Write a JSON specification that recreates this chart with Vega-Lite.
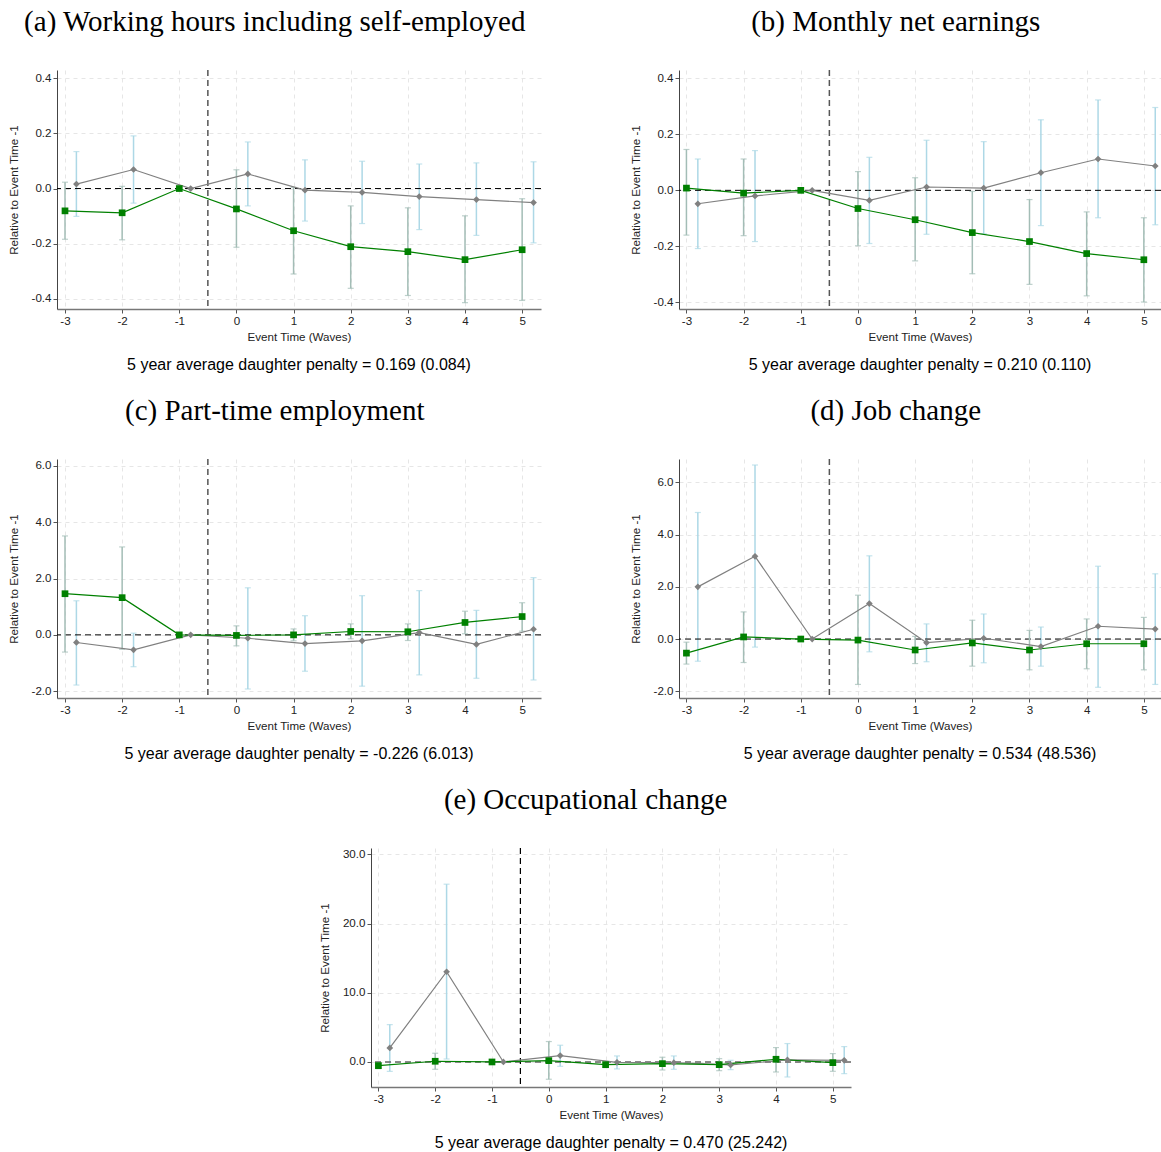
{
 "$schema": "https://vega.github.io/schema/vega-lite/v6.json",
 "padding": {"left": 8, "top": 8, "right": 0, "bottom": 0},
 "background": "white",
 "datasets": {
  "a": [
   {"group": "daughter", "t": -3, "est": -0.081, "lo": -0.184, "hi": 0.023},
   {"group": "daughter", "t": -2, "est": -0.088, "lo": -0.186, "hi": 0.008},
   {"group": "daughter", "t": -1, "est": 0, "lo": null, "hi": null},
   {"group": "daughter", "t": 0, "est": -0.074, "lo": -0.213, "hi": 0.068},
   {"group": "daughter", "t": 1, "est": -0.153, "lo": -0.31, "hi": 0.004},
   {"group": "daughter", "t": 2, "est": -0.211, "lo": -0.362, "hi": -0.063},
   {"group": "daughter", "t": 3, "est": -0.229, "lo": -0.388, "hi": -0.07},
   {"group": "daughter", "t": 4, "est": -0.258, "lo": -0.414, "hi": -0.099},
   {"group": "daughter", "t": 5, "est": -0.222, "lo": -0.406, "hi": -0.037},
   {"group": "son", "t": -3, "est": 0.016, "lo": -0.101, "hi": 0.134},
   {"group": "son", "t": -2, "est": 0.069, "lo": -0.053, "hi": 0.191},
   {"group": "son", "t": -1, "est": 0, "lo": null, "hi": null},
   {"group": "son", "t": 0, "est": 0.053, "lo": -0.063, "hi": 0.169},
   {"group": "son", "t": 1, "est": -0.006, "lo": -0.118, "hi": 0.104},
   {"group": "son", "t": 2, "est": -0.014, "lo": -0.127, "hi": 0.099},
   {"group": "son", "t": 3, "est": -0.029, "lo": -0.149, "hi": 0.089},
   {"group": "son", "t": 4, "est": -0.04, "lo": -0.17, "hi": 0.093},
   {"group": "son", "t": 5, "est": -0.051, "lo": -0.197, "hi": 0.097}
  ],
  "b": [
   {"group": "daughter", "t": -3, "est": 0.008, "lo": -0.16, "hi": 0.146},
   {"group": "daughter", "t": -2, "est": -0.01, "lo": -0.162, "hi": 0.112},
   {"group": "daughter", "t": -1, "est": 0, "lo": null, "hi": null},
   {"group": "daughter", "t": 0, "est": -0.065, "lo": -0.198, "hi": 0.067},
   {"group": "daughter", "t": 1, "est": -0.105, "lo": -0.252, "hi": 0.045},
   {"group": "daughter", "t": 2, "est": -0.151, "lo": -0.298, "hi": -0.004},
   {"group": "daughter", "t": 3, "est": -0.183, "lo": -0.336, "hi": -0.033},
   {"group": "daughter", "t": 4, "est": -0.226, "lo": -0.377, "hi": -0.077},
   {"group": "daughter", "t": 5, "est": -0.248, "lo": -0.399, "hi": -0.098},
   {"group": "son", "t": -3, "est": -0.048, "lo": -0.208, "hi": 0.112},
   {"group": "son", "t": -2, "est": -0.02, "lo": -0.183, "hi": 0.142},
   {"group": "son", "t": -1, "est": 0, "lo": null, "hi": null},
   {"group": "son", "t": 0, "est": -0.036, "lo": -0.19, "hi": 0.118},
   {"group": "son", "t": 1, "est": 0.012, "lo": -0.157, "hi": 0.179},
   {"group": "son", "t": 2, "est": 0.008, "lo": -0.155, "hi": 0.174},
   {"group": "son", "t": 3, "est": 0.063, "lo": -0.126, "hi": 0.252},
   {"group": "son", "t": 4, "est": 0.112, "lo": -0.098, "hi": 0.323},
   {"group": "son", "t": 5, "est": 0.087, "lo": -0.123, "hi": 0.296}
  ],
  "c": [
   {"group": "daughter", "t": -3, "est": 1.46, "lo": -0.61, "hi": 3.51},
   {"group": "daughter", "t": -2, "est": 1.32, "lo": -0.51, "hi": 3.12},
   {"group": "daughter", "t": -1, "est": 0, "lo": null, "hi": null},
   {"group": "daughter", "t": 0, "est": -0.02, "lo": -0.39, "hi": 0.32},
   {"group": "daughter", "t": 1, "est": 0.0, "lo": -0.21, "hi": 0.21},
   {"group": "daughter", "t": 2, "est": 0.12, "lo": -0.14, "hi": 0.39},
   {"group": "daughter", "t": 3, "est": 0.11, "lo": -0.2, "hi": 0.39},
   {"group": "daughter", "t": 4, "est": 0.44, "lo": 0.04, "hi": 0.84},
   {"group": "daughter", "t": 5, "est": 0.65, "lo": 0.13, "hi": 1.14},
   {"group": "son", "t": -3, "est": -0.27, "lo": -1.78, "hi": 1.21},
   {"group": "son", "t": -2, "est": -0.53, "lo": -1.13, "hi": 0.06},
   {"group": "son", "t": -1, "est": 0, "lo": null, "hi": null},
   {"group": "son", "t": 0, "est": -0.12, "lo": -1.92, "hi": 1.67},
   {"group": "son", "t": 1, "est": -0.31, "lo": -1.29, "hi": 0.68},
   {"group": "son", "t": 2, "est": -0.21, "lo": -1.82, "hi": 1.39},
   {"group": "son", "t": 3, "est": 0.08, "lo": -1.42, "hi": 1.57},
   {"group": "son", "t": 4, "est": -0.34, "lo": -1.54, "hi": 0.87},
   {"group": "son", "t": 5, "est": 0.2, "lo": -1.6, "hi": 2.03}
  ],
  "d": [
   {"group": "daughter", "t": -3, "est": -0.54, "lo": -0.96, "hi": -0.12},
   {"group": "daughter", "t": -2, "est": 0.08, "lo": -0.9, "hi": 1.04},
   {"group": "daughter", "t": -1, "est": 0, "lo": null, "hi": null},
   {"group": "daughter", "t": 0, "est": -0.04, "lo": -1.74, "hi": 1.68},
   {"group": "daughter", "t": 1, "est": -0.42, "lo": -0.94, "hi": 0.1},
   {"group": "daughter", "t": 2, "est": -0.15, "lo": -1.04, "hi": 0.72},
   {"group": "daughter", "t": 3, "est": -0.42, "lo": -1.18, "hi": 0.33},
   {"group": "daughter", "t": 4, "est": -0.18, "lo": -1.14, "hi": 0.77},
   {"group": "daughter", "t": 5, "est": -0.18, "lo": -1.18, "hi": 0.83},
   {"group": "son", "t": -3, "est": 2.0, "lo": -0.85, "hi": 4.85},
   {"group": "son", "t": -2, "est": 3.17, "lo": -0.31, "hi": 6.67},
   {"group": "son", "t": -1, "est": 0, "lo": null, "hi": null},
   {"group": "son", "t": 0, "est": 1.36, "lo": -0.49, "hi": 3.19},
   {"group": "son", "t": 1, "est": -0.14, "lo": -0.87, "hi": 0.58},
   {"group": "son", "t": 2, "est": 0.03, "lo": -0.91, "hi": 0.96},
   {"group": "son", "t": 3, "est": -0.29, "lo": -1.04, "hi": 0.46},
   {"group": "son", "t": 4, "est": 0.49, "lo": -1.85, "hi": 2.79},
   {"group": "son", "t": 5, "est": 0.38, "lo": -1.74, "hi": 2.5}
  ],
  "e": [
   {"group": "daughter", "t": -3, "est": -0.53, "lo": -0.97, "hi": -0.2},
   {"group": "daughter", "t": -2, "est": 0.1, "lo": -1.06, "hi": 1.26},
   {"group": "daughter", "t": -1, "est": 0, "lo": null, "hi": null},
   {"group": "daughter", "t": 0, "est": 0.19, "lo": -2.5, "hi": 2.95},
   {"group": "daughter", "t": 1, "est": -0.39, "lo": -0.82, "hi": 0.0},
   {"group": "daughter", "t": 2, "est": -0.24, "lo": -1.16, "hi": 0.68},
   {"group": "daughter", "t": 3, "est": -0.39, "lo": -1.26, "hi": 0.48},
   {"group": "daughter", "t": 4, "est": 0.39, "lo": -1.45, "hi": 2.08},
   {"group": "daughter", "t": 5, "est": -0.1, "lo": -1.35, "hi": 1.21},
   {"group": "son", "t": -3, "est": 2.03, "lo": -1.35, "hi": 5.41},
   {"group": "son", "t": -2, "est": 13.04, "lo": 0.43, "hi": 25.7},
   {"group": "son", "t": -1, "est": 0, "lo": null, "hi": null},
   {"group": "son", "t": 0, "est": 0.92, "lo": -0.63, "hi": 2.42},
   {"group": "son", "t": 1, "est": -0.05, "lo": -1.01, "hi": 0.87},
   {"group": "son", "t": 2, "est": -0.1, "lo": -1.06, "hi": 0.87},
   {"group": "son", "t": 3, "est": -0.43, "lo": -1.11, "hi": 0.24},
   {"group": "son", "t": 4, "est": 0.29, "lo": -2.17, "hi": 2.66},
   {"group": "son", "t": 5, "est": 0.24, "lo": -1.69, "hi": 2.22}
  ]
 },
 "vconcat": [
  {"hconcat": [
   {"title": {"text": "(a) Working hours including self-employed", "font": "Liberation Serif", "fontSize": 29, "fontWeight": "normal", "color": "#000", "anchor": "middle", "offset": 32},
    "vconcat": [{
     "width": 484, "height": 239,
     "title": {"text": "5 year average daughter penalty = 0.169 (0.084)", "orient": "bottom", "anchor": "middle", "frame": "group", "font": "Liberation Sans", "fontSize": 16, "fontWeight": "normal", "color": "#000", "offset": 14},
     "data": {"name": "a"},
     "layer": [
      {"transform": [{"filter": "datum.group == 'son'"}], "mark": {"type": "rule", "color": "#add8e6", "strokeWidth": 1.5, "xOffset": 11.4},
       "encoding": {"x": {"field": "t", "type": "quantitative", "scale": {"domain": [-3.14, 5.33], "nice": false, "zero": false}, "axis": {"values": [-3, -2, -1, 0, 1, 2, 3, 4, 5], "title": "Event Time (Waves)", "labelExpr": "replace(format(datum.value, 'd'), '\u2212', '-')", "grid": true}},
        "y": {"field": "lo", "type": "quantitative", "scale": {"domain": [-0.437, 0.43], "nice": false, "zero": false}, "axis": {"values": [-0.4, -0.2, 0, 0.2, 0.4], "title": "Relative to Event Time -1", "labelExpr": "replace(format(datum.value, '.1f'), '\u2212', '-')", "grid": true}},
        "y2": {"field": "hi"}}},
      {"data": {"values": [{}]}, "mark": {"type": "rule", "strokeDash": [6, 4], "color": "#000", "strokeWidth": 1}, "encoding": {"y": {"datum": 0, "type": "quantitative"}}},
      {"data": {"values": [{}]}, "mark": {"type": "rule", "strokeDash": [6, 4], "color": "#555", "strokeWidth": 1.5}, "encoding": {"x": {"datum": -0.5, "type": "quantitative"}}},
      {"transform": [{"filter": "datum.group == 'daughter'"}], "mark": {"type": "rule", "color": "#a3bdb6", "strokeWidth": 1.5},
       "encoding": {"x": {"field": "t", "type": "quantitative"}, "y": {"field": "lo", "type": "quantitative"}, "y2": {"field": "hi"}}},
      {"transform": [{"filter": "datum.group == 'son'"}, {"fold": ["lo", "hi"], "as": ["bound", "v"]}], "mark": {"type": "tick", "orient": "horizontal", "color": "#add8e6", "size": 6, "thickness": 1.2, "xOffset": 11.4},
       "encoding": {"x": {"field": "t", "type": "quantitative"}, "y": {"field": "v", "type": "quantitative"}}},
      {"transform": [{"filter": "datum.group == 'daughter'"}, {"fold": ["lo", "hi"], "as": ["bound", "v"]}], "mark": {"type": "tick", "orient": "horizontal", "color": "#a3bdb6", "size": 6, "thickness": 1.2},
       "encoding": {"x": {"field": "t", "type": "quantitative"}, "y": {"field": "v", "type": "quantitative"}}},
      {"transform": [{"filter": "datum.group == 'son'"}], "mark": {"type": "line", "color": "#808080", "strokeWidth": 1.2, "xOffset": 11.4},
       "encoding": {"x": {"field": "t", "type": "quantitative"}, "y": {"field": "est", "type": "quantitative"}}},
      {"transform": [{"filter": "datum.group == 'daughter'"}], "mark": {"type": "line", "color": "#008000", "strokeWidth": 1.2},
       "encoding": {"x": {"field": "t", "type": "quantitative"}, "y": {"field": "est", "type": "quantitative"}}},
      {"transform": [{"filter": "datum.group == 'son'"}], "mark": {"type": "point", "shape": "diamond", "filled": true, "color": "#808080", "opacity": 1, "size": 45, "xOffset": 11.4},
       "encoding": {"x": {"field": "t", "type": "quantitative"}, "y": {"field": "est", "type": "quantitative"}}},
      {"transform": [{"filter": "datum.group == 'daughter'"}], "mark": {"type": "point", "shape": "square", "filled": true, "color": "#008000", "opacity": 1, "size": 45},
       "encoding": {"x": {"field": "t", "type": "quantitative"}, "y": {"field": "est", "type": "quantitative"}}}
     ]
    }]
   },
   {"title": {"text": "(b) Monthly net earnings", "font": "Liberation Serif", "fontSize": 29, "fontWeight": "normal", "color": "#000", "anchor": "middle", "offset": 32},
    "vconcat": [{
     "width": 482, "height": 239,
     "title": {"text": "5 year average daughter penalty = 0.210 (0.110)", "orient": "bottom", "anchor": "middle", "frame": "group", "font": "Liberation Sans", "fontSize": 16, "fontWeight": "normal", "color": "#000", "offset": 14},
     "data": {"name": "b"},
     "layer": [
      {"transform": [{"filter": "datum.group == 'son'"}], "mark": {"type": "rule", "color": "#add8e6", "strokeWidth": 1.5, "xOffset": 11.4},
       "encoding": {"x": {"field": "t", "type": "quantitative", "scale": {"domain": [-3.13, 5.3], "nice": false, "zero": false}, "axis": {"values": [-3, -2, -1, 0, 1, 2, 3, 4, 5], "title": "Event Time (Waves)", "labelExpr": "replace(format(datum.value, 'd'), '\u2212', '-')", "grid": true}},
        "y": {"field": "lo", "type": "quantitative", "scale": {"domain": [-0.424, 0.43], "nice": false, "zero": false}, "axis": {"values": [-0.4, -0.2, 0, 0.2, 0.4], "title": "Relative to Event Time -1", "labelExpr": "replace(format(datum.value, '.1f'), '\u2212', '-')", "grid": true}},
        "y2": {"field": "hi"}}},
      {"data": {"values": [{}]}, "mark": {"type": "rule", "strokeDash": [6, 4], "color": "#000", "strokeWidth": 1}, "encoding": {"y": {"datum": 0, "type": "quantitative"}}},
      {"data": {"values": [{}]}, "mark": {"type": "rule", "strokeDash": [6, 4], "color": "#555", "strokeWidth": 1.5}, "encoding": {"x": {"datum": -0.5, "type": "quantitative"}}},
      {"transform": [{"filter": "datum.group == 'daughter'"}], "mark": {"type": "rule", "color": "#a3bdb6", "strokeWidth": 1.5},
       "encoding": {"x": {"field": "t", "type": "quantitative"}, "y": {"field": "lo", "type": "quantitative"}, "y2": {"field": "hi"}}},
      {"transform": [{"filter": "datum.group == 'son'"}, {"fold": ["lo", "hi"], "as": ["bound", "v"]}], "mark": {"type": "tick", "orient": "horizontal", "color": "#add8e6", "size": 6, "thickness": 1.2, "xOffset": 11.4},
       "encoding": {"x": {"field": "t", "type": "quantitative"}, "y": {"field": "v", "type": "quantitative"}}},
      {"transform": [{"filter": "datum.group == 'daughter'"}, {"fold": ["lo", "hi"], "as": ["bound", "v"]}], "mark": {"type": "tick", "orient": "horizontal", "color": "#a3bdb6", "size": 6, "thickness": 1.2},
       "encoding": {"x": {"field": "t", "type": "quantitative"}, "y": {"field": "v", "type": "quantitative"}}},
      {"transform": [{"filter": "datum.group == 'son'"}], "mark": {"type": "line", "color": "#808080", "strokeWidth": 1.2, "xOffset": 11.4},
       "encoding": {"x": {"field": "t", "type": "quantitative"}, "y": {"field": "est", "type": "quantitative"}}},
      {"transform": [{"filter": "datum.group == 'daughter'"}], "mark": {"type": "line", "color": "#008000", "strokeWidth": 1.2},
       "encoding": {"x": {"field": "t", "type": "quantitative"}, "y": {"field": "est", "type": "quantitative"}}},
      {"transform": [{"filter": "datum.group == 'son'"}], "mark": {"type": "point", "shape": "diamond", "filled": true, "color": "#808080", "opacity": 1, "size": 45, "xOffset": 11.4},
       "encoding": {"x": {"field": "t", "type": "quantitative"}, "y": {"field": "est", "type": "quantitative"}}},
      {"transform": [{"filter": "datum.group == 'daughter'"}], "mark": {"type": "point", "shape": "square", "filled": true, "color": "#008000", "opacity": 1, "size": 45},
       "encoding": {"x": {"field": "t", "type": "quantitative"}, "y": {"field": "est", "type": "quantitative"}}}
     ]
    }]
   }
  ], "spacing": 88},
  {"hconcat": [
   {"title": {"text": "(c) Part-time employment", "font": "Liberation Serif", "fontSize": 29, "fontWeight": "normal", "color": "#000", "anchor": "middle", "offset": 32},
    "vconcat": [{
     "width": 484, "height": 239,
     "title": {"text": "5 year average daughter penalty = -0.226 (6.013)", "orient": "bottom", "anchor": "middle", "frame": "group", "font": "Liberation Sans", "fontSize": 16, "fontWeight": "normal", "color": "#000", "offset": 14},
     "data": {"name": "c"},
     "layer": [
      {"transform": [{"filter": "datum.group == 'son'"}], "mark": {"type": "rule", "color": "#add8e6", "strokeWidth": 1.5, "xOffset": 11.4},
       "encoding": {"x": {"field": "t", "type": "quantitative", "scale": {"domain": [-3.14, 5.33], "nice": false, "zero": false}, "axis": {"values": [-3, -2, -1, 0, 1, 2, 3, 4, 5], "title": "Event Time (Waves)", "labelExpr": "replace(format(datum.value, 'd'), '\u2212', '-')", "grid": true}},
        "y": {"field": "lo", "type": "quantitative", "scale": {"domain": [-2.24, 6.24], "nice": false, "zero": false}, "axis": {"values": [-2, 0, 2, 4, 6], "title": "Relative to Event Time -1", "labelExpr": "replace(format(datum.value, '.1f'), '\u2212', '-')", "grid": true}},
        "y2": {"field": "hi"}}},
      {"data": {"values": [{}]}, "mark": {"type": "rule", "strokeDash": [6, 4], "color": "#000", "strokeWidth": 1}, "encoding": {"y": {"datum": 0, "type": "quantitative"}}},
      {"data": {"values": [{}]}, "mark": {"type": "rule", "strokeDash": [6, 4], "color": "#555", "strokeWidth": 1.5}, "encoding": {"x": {"datum": -0.5, "type": "quantitative"}}},
      {"transform": [{"filter": "datum.group == 'daughter'"}], "mark": {"type": "rule", "color": "#a3bdb6", "strokeWidth": 1.5},
       "encoding": {"x": {"field": "t", "type": "quantitative"}, "y": {"field": "lo", "type": "quantitative"}, "y2": {"field": "hi"}}},
      {"transform": [{"filter": "datum.group == 'son'"}, {"fold": ["lo", "hi"], "as": ["bound", "v"]}], "mark": {"type": "tick", "orient": "horizontal", "color": "#add8e6", "size": 6, "thickness": 1.2, "xOffset": 11.4},
       "encoding": {"x": {"field": "t", "type": "quantitative"}, "y": {"field": "v", "type": "quantitative"}}},
      {"transform": [{"filter": "datum.group == 'daughter'"}, {"fold": ["lo", "hi"], "as": ["bound", "v"]}], "mark": {"type": "tick", "orient": "horizontal", "color": "#a3bdb6", "size": 6, "thickness": 1.2},
       "encoding": {"x": {"field": "t", "type": "quantitative"}, "y": {"field": "v", "type": "quantitative"}}},
      {"transform": [{"filter": "datum.group == 'son'"}], "mark": {"type": "line", "color": "#808080", "strokeWidth": 1.2, "xOffset": 11.4},
       "encoding": {"x": {"field": "t", "type": "quantitative"}, "y": {"field": "est", "type": "quantitative"}}},
      {"transform": [{"filter": "datum.group == 'daughter'"}], "mark": {"type": "line", "color": "#008000", "strokeWidth": 1.2},
       "encoding": {"x": {"field": "t", "type": "quantitative"}, "y": {"field": "est", "type": "quantitative"}}},
      {"transform": [{"filter": "datum.group == 'son'"}], "mark": {"type": "point", "shape": "diamond", "filled": true, "color": "#808080", "opacity": 1, "size": 45, "xOffset": 11.4},
       "encoding": {"x": {"field": "t", "type": "quantitative"}, "y": {"field": "est", "type": "quantitative"}}},
      {"transform": [{"filter": "datum.group == 'daughter'"}], "mark": {"type": "point", "shape": "square", "filled": true, "color": "#008000", "opacity": 1, "size": 45},
       "encoding": {"x": {"field": "t", "type": "quantitative"}, "y": {"field": "est", "type": "quantitative"}}}
     ]
    }]
   },
   {"title": {"text": "(d) Job change", "font": "Liberation Serif", "fontSize": 29, "fontWeight": "normal", "color": "#000", "anchor": "middle", "offset": 32},
    "vconcat": [{
     "width": 482, "height": 239,
     "title": {"text": "5 year average daughter penalty = 0.534 (48.536)", "orient": "bottom", "anchor": "middle", "frame": "group", "font": "Liberation Sans", "fontSize": 16, "fontWeight": "normal", "color": "#000", "offset": 14},
     "data": {"name": "d"},
     "layer": [
      {"transform": [{"filter": "datum.group == 'son'"}], "mark": {"type": "rule", "color": "#add8e6", "strokeWidth": 1.5, "xOffset": 11.4},
       "encoding": {"x": {"field": "t", "type": "quantitative", "scale": {"domain": [-3.13, 5.3], "nice": false, "zero": false}, "axis": {"values": [-3, -2, -1, 0, 1, 2, 3, 4, 5], "title": "Event Time (Waves)", "labelExpr": "replace(format(datum.value, 'd'), '\u2212', '-')", "grid": true}},
        "y": {"field": "lo", "type": "quantitative", "scale": {"domain": [-2.26, 6.9], "nice": false, "zero": false}, "axis": {"values": [-2, 0, 2, 4, 6], "title": "Relative to Event Time -1", "labelExpr": "replace(format(datum.value, '.1f'), '\u2212', '-')", "grid": true}},
        "y2": {"field": "hi"}}},
      {"data": {"values": [{}]}, "mark": {"type": "rule", "strokeDash": [6, 4], "color": "#000", "strokeWidth": 1}, "encoding": {"y": {"datum": 0, "type": "quantitative"}}},
      {"data": {"values": [{}]}, "mark": {"type": "rule", "strokeDash": [6, 4], "color": "#555", "strokeWidth": 1.5}, "encoding": {"x": {"datum": -0.5, "type": "quantitative"}}},
      {"transform": [{"filter": "datum.group == 'daughter'"}], "mark": {"type": "rule", "color": "#a3bdb6", "strokeWidth": 1.5},
       "encoding": {"x": {"field": "t", "type": "quantitative"}, "y": {"field": "lo", "type": "quantitative"}, "y2": {"field": "hi"}}},
      {"transform": [{"filter": "datum.group == 'son'"}, {"fold": ["lo", "hi"], "as": ["bound", "v"]}], "mark": {"type": "tick", "orient": "horizontal", "color": "#add8e6", "size": 6, "thickness": 1.2, "xOffset": 11.4},
       "encoding": {"x": {"field": "t", "type": "quantitative"}, "y": {"field": "v", "type": "quantitative"}}},
      {"transform": [{"filter": "datum.group == 'daughter'"}, {"fold": ["lo", "hi"], "as": ["bound", "v"]}], "mark": {"type": "tick", "orient": "horizontal", "color": "#a3bdb6", "size": 6, "thickness": 1.2},
       "encoding": {"x": {"field": "t", "type": "quantitative"}, "y": {"field": "v", "type": "quantitative"}}},
      {"transform": [{"filter": "datum.group == 'son'"}], "mark": {"type": "line", "color": "#808080", "strokeWidth": 1.2, "xOffset": 11.4},
       "encoding": {"x": {"field": "t", "type": "quantitative"}, "y": {"field": "est", "type": "quantitative"}}},
      {"transform": [{"filter": "datum.group == 'daughter'"}], "mark": {"type": "line", "color": "#008000", "strokeWidth": 1.2},
       "encoding": {"x": {"field": "t", "type": "quantitative"}, "y": {"field": "est", "type": "quantitative"}}},
      {"transform": [{"filter": "datum.group == 'son'"}], "mark": {"type": "point", "shape": "diamond", "filled": true, "color": "#808080", "opacity": 1, "size": 45, "xOffset": 11.4},
       "encoding": {"x": {"field": "t", "type": "quantitative"}, "y": {"field": "est", "type": "quantitative"}}},
      {"transform": [{"filter": "datum.group == 'daughter'"}], "mark": {"type": "point", "shape": "square", "filled": true, "color": "#008000", "opacity": 1, "size": 45},
       "encoding": {"x": {"field": "t", "type": "quantitative"}, "y": {"field": "est", "type": "quantitative"}}}
     ]
    }]
   }
  ], "spacing": 88},
  {"hconcat": [
   {"width": 1, "height": 1, "data": {"values": []}, "mark": {"type": "point", "opacity": 0}, "encoding": {}},
   {"title": {"text": "(e) Occupational change", "font": "Liberation Serif", "fontSize": 29, "fontWeight": "normal", "color": "#000", "anchor": "middle", "offset": 32},
    "vconcat": [{
     "width": 480, "height": 239,
     "title": {"text": "5 year average daughter penalty = 0.470 (25.242)", "orient": "bottom", "anchor": "middle", "frame": "group", "font": "Liberation Sans", "fontSize": 16, "fontWeight": "normal", "color": "#000", "offset": 14},
     "data": {"name": "e"},
     "layer": [
      {"transform": [{"filter": "datum.group == 'son'"}], "mark": {"type": "rule", "color": "#add8e6", "strokeWidth": 1.5, "xOffset": 11.4},
       "encoding": {"x": {"field": "t", "type": "quantitative", "scale": {"domain": [-3.13, 5.32], "nice": false, "zero": false}, "axis": {"values": [-3, -2, -1, 0, 1, 2, 3, 4, 5], "title": "Event Time (Waves)", "labelExpr": "replace(format(datum.value, 'd'), '\u2212', '-')", "grid": true}},
        "y": {"field": "lo", "type": "quantitative", "scale": {"domain": [-3.62, 30.93], "nice": false, "zero": false}, "axis": {"values": [0, 10, 20, 30], "title": "Relative to Event Time -1", "labelExpr": "replace(format(datum.value, '.1f'), '\u2212', '-')", "grid": true}},
        "y2": {"field": "hi"}}},
      {"data": {"values": [{}]}, "mark": {"type": "rule", "strokeDash": [6, 4], "color": "#666", "strokeWidth": 1.5}, "encoding": {"y": {"datum": 0, "type": "quantitative"}}},
      {"data": {"values": [{}]}, "mark": {"type": "rule", "strokeDash": [6, 4], "color": "#000", "strokeWidth": 1.2}, "encoding": {"x": {"datum": -0.5, "type": "quantitative"}}},
      {"transform": [{"filter": "datum.group == 'daughter'"}], "mark": {"type": "rule", "color": "#a3bdb6", "strokeWidth": 1.5},
       "encoding": {"x": {"field": "t", "type": "quantitative"}, "y": {"field": "lo", "type": "quantitative"}, "y2": {"field": "hi"}}},
      {"transform": [{"filter": "datum.group == 'son'"}, {"fold": ["lo", "hi"], "as": ["bound", "v"]}], "mark": {"type": "tick", "orient": "horizontal", "color": "#add8e6", "size": 6, "thickness": 1.2, "xOffset": 11.4},
       "encoding": {"x": {"field": "t", "type": "quantitative"}, "y": {"field": "v", "type": "quantitative"}}},
      {"transform": [{"filter": "datum.group == 'daughter'"}, {"fold": ["lo", "hi"], "as": ["bound", "v"]}], "mark": {"type": "tick", "orient": "horizontal", "color": "#a3bdb6", "size": 6, "thickness": 1.2},
       "encoding": {"x": {"field": "t", "type": "quantitative"}, "y": {"field": "v", "type": "quantitative"}}},
      {"transform": [{"filter": "datum.group == 'son'"}], "mark": {"type": "line", "color": "#808080", "strokeWidth": 1.2, "xOffset": 11.4},
       "encoding": {"x": {"field": "t", "type": "quantitative"}, "y": {"field": "est", "type": "quantitative"}}},
      {"transform": [{"filter": "datum.group == 'daughter'"}], "mark": {"type": "line", "color": "#008000", "strokeWidth": 1.2},
       "encoding": {"x": {"field": "t", "type": "quantitative"}, "y": {"field": "est", "type": "quantitative"}}},
      {"transform": [{"filter": "datum.group == 'son'"}], "mark": {"type": "point", "shape": "diamond", "filled": true, "color": "#808080", "opacity": 1, "size": 45, "xOffset": 11.4},
       "encoding": {"x": {"field": "t", "type": "quantitative"}, "y": {"field": "est", "type": "quantitative"}}},
      {"transform": [{"filter": "datum.group == 'daughter'"}], "mark": {"type": "point", "shape": "square", "filled": true, "color": "#008000", "opacity": 1, "size": 45},
       "encoding": {"x": {"field": "t", "type": "quantitative"}, "y": {"field": "est", "type": "quantitative"}}}
     ]
    }]
   }
  ], "spacing": 261}
 ],
 "spacing": 23,
 "center": false,
 "config": {
  "view": {"stroke": null},
  "font": "Liberation Sans",
  "axis": {"labelFont": "Liberation Sans", "titleFont": "Liberation Sans", "labelFontSize": 11.6, "titleFontSize": 11.6, "titleFontWeight": "normal", "labelColor": "#222", "titleColor": "#222", "tickColor": "#555", "domainColor": "#444", "gridColor": "#e6e6e6", "gridDash": [4, 4], "tickSize": 4, "labelPadding": 2},
  "axisX": {"domainWidth": 1.5, "domainColor": "#777", "titlePadding": 5},
  "axisY": {"titlePadding": 12},
  "title": {"fontWeight": "normal", "color": "#000"}
 }
}
